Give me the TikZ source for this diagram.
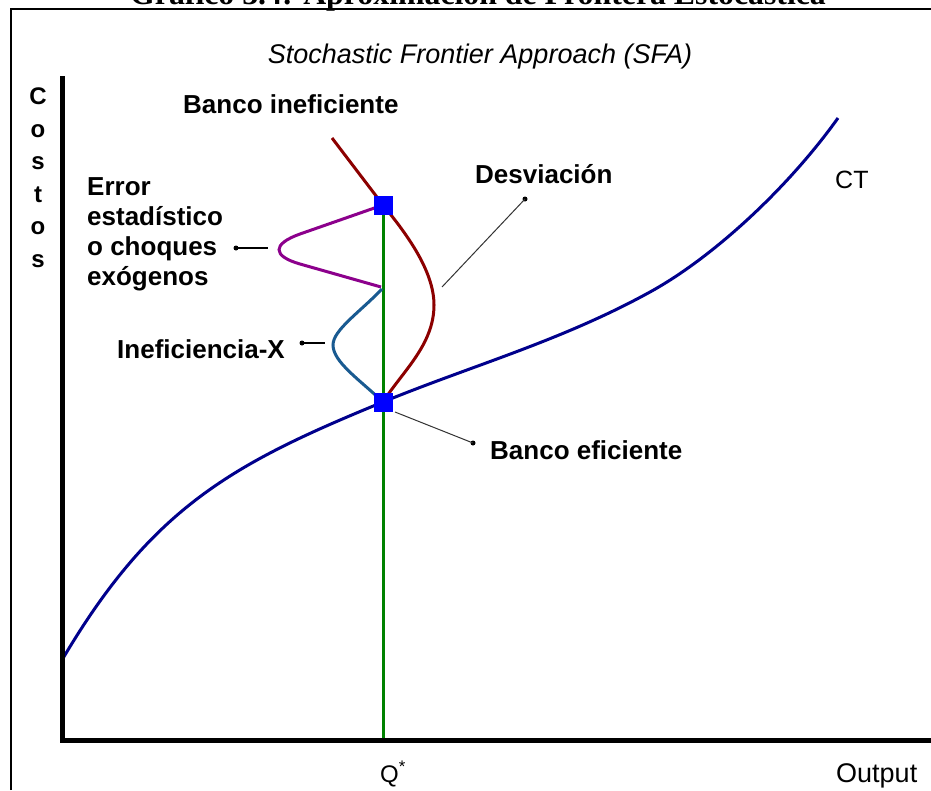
\documentclass[tikz,border=0pt]{standalone}
\usepackage{fontspec}
\setmainfont{Liberation Sans}
\newfontfamily\serifhead{Liberation Serif}
\definecolor{ctblue}{RGB}{0,0,140}
\definecolor{ineff}{RGB}{140,0,0}
\definecolor{shock}{RGB}{140,0,140}
\definecolor{xineff}{RGB}{25,90,145}
\definecolor{qline}{RGB}{0,130,0}
\begin{document}
\begin{tikzpicture}[x=1pt,y=-1pt,
  lbl/.style={font=\fontsize{26}{30}\selectfont\bfseries,inner sep=0pt,anchor=base west},
  bank/.style={fill=blue,minimum size=19pt,inner sep=0pt},
  pin/.style={circle,fill=black,minimum size=5pt,inner sep=0pt},
  lead/.style={line width=1.8pt},
  thinlead/.style={line width=1pt,black!80},
  curve/.style={line width=3pt}]
\useasboundingbox (0,0) rectangle (931,790);
\fill[white] (0,0) rectangle (931,790);
\node[font=\serifhead\bfseries\fontsize{31.8}{34}\selectfont,anchor=base,inner sep=0pt] (head) at (478,4) {Gráfico 3.4: Aproximación de Frontera Estocástica};
\draw[line width=2pt] (11,790) -- (11,9) -- (931,9);
\coordinate (pi) at (383,205);
\coordinate (pe) at (383,402);
\draw[qline,curve] (pi) -- (383,740);
\draw[ctblue,curve] (62,660) .. controls (152,507) and (233,463.5) .. (pe)
  .. controls (472,365.5) and (561,341) .. (650,292)
  .. controls (713,257.4) and (788,188) .. (838,118);
\draw[ineff,curve] (332,138) -- (pi) .. controls (405,232) and (434,270) .. (434,305) .. controls (434,345) and (402,372) .. (pe);
\draw[shock,curve] (pi) -- (300,234) .. controls (272,244) and (272,256) .. (300,264) -- (381,287);
\draw[xineff,curve] (382,289) .. controls (360,312) and (333,330) .. (333,345) .. controls (333,362) and (360,380) .. (pe);
\draw[line width=5pt] (62,76) -- (62,740) -- (931,740);
\node[bank] (bi) at (pi) {};
\node[bank] (be) at (pe) {};
\node[font=\itshape\fontsize{27}{30}\selectfont,anchor=base,inner sep=0pt] (sfa) at (480,63) {Stochastic Frontier Approach (SFA)};
\node[font=\fontsize{24}{32.5}\selectfont\bfseries,align=center,anchor=north,inner sep=0pt] (cost) at (38,88) {C\\o\\s\\t\\o\\s};
\node[lbl] (lbi) at (183,113) {Banco ineficiente};
\node[lbl,align=left,anchor=north west] (ler) at (87,177) {Error\\estadístico\\o choques\\exógenos};
\node[lbl] (ldv) at (475,183) {Desviación};
\node[lbl] (lxi) at (117,358) {Ineficiencia-X};
\node[lbl] (lbe) at (490,459) {Banco eficiente};
\node[font=\fontsize{25}{28}\selectfont,anchor=base west,inner sep=0pt] (ct) at (835,188) {CT};
\node[font=\fontsize{24}{28}\selectfont,anchor=base west,inner sep=0pt] (qs) at (380,782) {Q\textsuperscript{*}};
\node[font=\fontsize{27}{30}\selectfont,anchor=base west,inner sep=0pt] (out) at (836,782) {Output};
\node[pin] (per) at (236,248) {};
\node[pin] (pxi) at (302,343) {};
\node[pin] (pdv) at (525,199) {};
\node[pin] (pbe) at (473,443) {};
\coordinate (ter) at (268,248);
\coordinate (txi) at (325,343);
\coordinate (tdv) at (442,287);
\coordinate (tbe) at (395,412);
\foreach \u/\v in {per/ter,pxi/txi}
  \draw[lead] (\u.center)--(\v);
\foreach \u/\v in {pdv/tdv,pbe/tbe}
  \draw[thinlead] (\u.center)--(\v);
\end{tikzpicture}
\end{document}
